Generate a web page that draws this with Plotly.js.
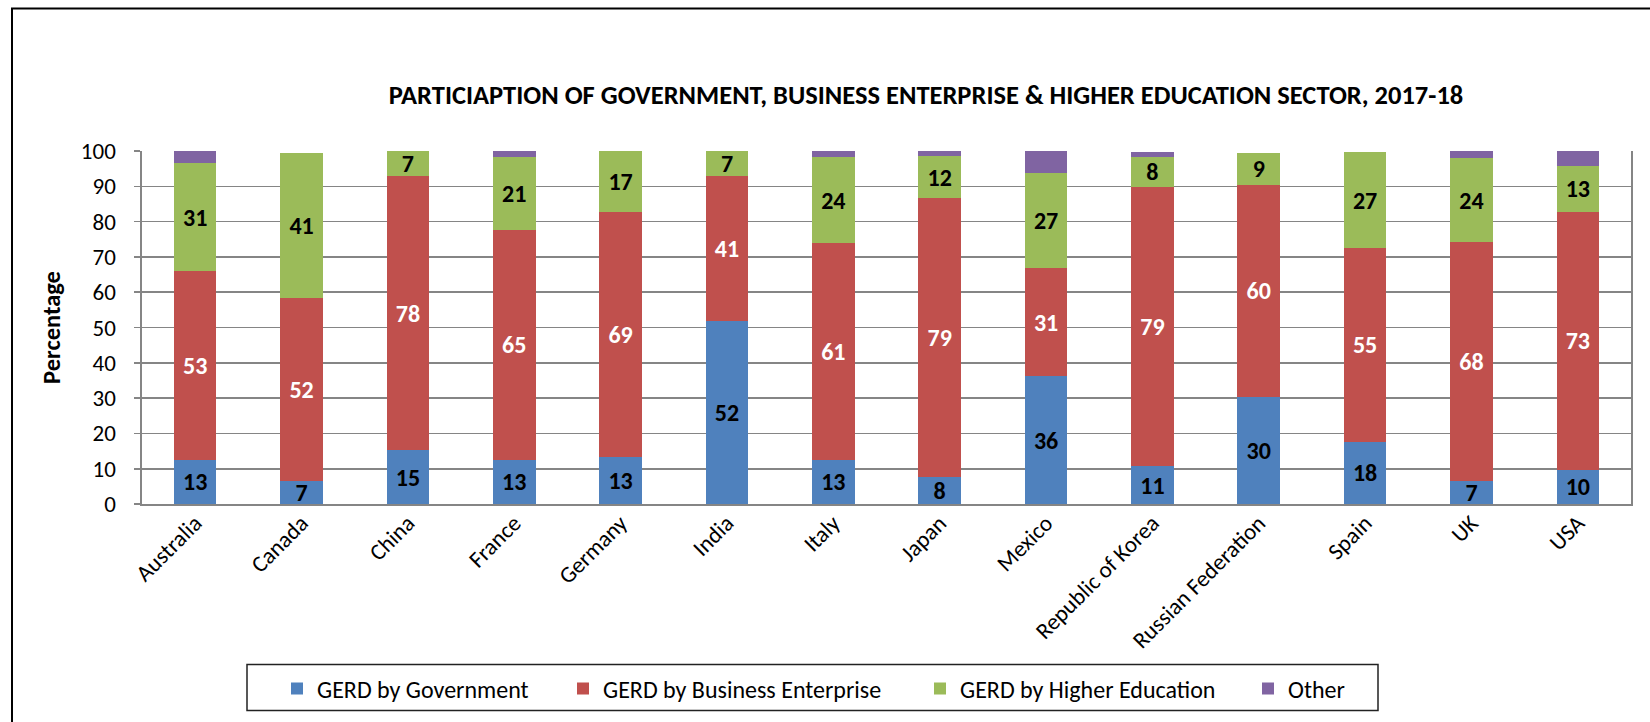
<!DOCTYPE html>
<html>
<head>
<meta charset="utf-8">
<script src="https://cdn.plot.ly/plotly-3.0.1.min.js"></script>
<style>
html,body{margin:0;padding:0;background:#fff;}
#chart{width:1650px;height:722px;}
</style>
</head>
<body>
<div id="chart"></div>
<script>
// ---- data ----
const categories = ["Australia","Canada","China","France","Germany","India","Italy","Japan","Mexico","Republic of Korea","Russian Federation","Spain","UK","USA"];
const govValues   = [12.6, 6.6, 15.2, 12.6, 13.3, 51.9, 12.6, 7.7, 36.2, 10.7, 30.3, 17.7, 6.6, 9.7];
const busValues   = [53.4, 51.9, 77.6, 65.0, 69.4, 40.9, 61.3, 78.9, 30.7, 79.2, 60.2, 54.8, 67.6, 73.0];
const heValues    = [30.6, 41.0, 7.2, 20.7, 17.3, 7.2, 24.4, 12.0, 26.8, 8.4, 9.0, 27.2, 23.7, 13.1];
const otherValues = [3.4, 0.0, 0.0, 1.7, 0.0, 0.0, 1.7, 1.4, 6.3, 1.3, 0.0, 0.0, 2.1, 4.2];
const seriesNames = ["GERD by Government","GERD by Business Enterprise","GERD by Higher Education","Other"];
const yTickVals = [0,10,20,30,40,50,60,70,80,90,100];

// ---- styles ----
const FONT = "Carlito, Lato, 'Liberation Sans', sans-serif";
const FS = 23;
const colors = ["#4F81BD","#C0504D","#9BBB59","#8064A2"];
const labelColors = ["#000000","#FFFFFF","#000000",null];

// plot area in pixels
const L = 142, R = 1631, T = 151, B = 505;
const xp = px => (px - L) / (R - L);
const yp = py => (B - py) / (B - T);

const allSeries = [govValues, busValues, heValues, otherValues];
const legendIds = ["legend","legend2","legend3","legend4"];
const legendLeftPx = [277, 563, 920, 1248];

const traces = allSeries.map((vals, i) => {
  const t = {
    type: "bar",
    name: seriesNames[i],
    x: categories,
    y: vals,
    marker: {color: colors[i], line: {width: 0}},
    legend: legendIds[i],
    hoverinfo: "x+y+name"
  };
  if (labelColors[i]) {
    t.texttemplate = "%{y:.0f}";
    t.textposition = "inside";
    t.insidetextanchor = "middle";
    t.textangle = 0;
    t.constraintext = "none";
    t.textfont = {family: FONT, size: 24, color: labelColors[i], weight: 700};
  } else {
    t.textposition = "none";
  }
  return t;
});

const layout = {
  width: 1650,
  height: 722,
  barmode: "stack",
  bargap: 0.6,
  paper_bgcolor: "#ffffff",
  plot_bgcolor: "#ffffff",
  margin: {l: L, r: 1650 - R, t: T, b: 722 - B, pad: 0},
  font: {family: FONT, size: FS, color: "#000"},
  title: {
    text: "PARTICIAPTION OF GOVERNMENT, BUSINESS ENTERPRISE & HIGHER EDUCATION SECTOR, 2017-18",
    font: {family: FONT, size: 26.5, color: "#000", weight: 700},
    xref: "container", x: 926 / 1650, xanchor: "center",
    yref: "container", y: 1 - 95 / 722, yanchor: "middle"
  },
  xaxis: {
    type: "category",
    showline: true, linecolor: "#858585", linewidth: 1.6,
    showgrid: false,
    ticks: "",
    tickangle: -45,
    ticklabelstandoff: -5,
    tickfont: {family: FONT, size: FS, color: "#000"},
    automargin: false
  },
  yaxis: {
    range: [0, 100],
    tickvals: yTickVals,
    showgrid: true, gridcolor: "#858585", gridwidth: 1.6,
    showline: true, linecolor: "#858585", linewidth: 1.6, mirror: true,
    zeroline: false,
    ticks: "outside", ticklen: 6, tickcolor: "#858585", tickwidth: 1.6,
    ticklabelstandoff: 14,
    tickfont: {family: FONT, size: FS, color: "#000"},
    title: {text: "Percentage", font: {family: FONT, size: 24.5, color: "#000", weight: 700}, standoff: 13},
    automargin: false
  },
  shapes: [
    {type: "line", xref: "paper", yref: "paper", x0: xp(12), x1: xp(12), y0: yp(730), y1: yp(8), line: {color: "#000", width: 2}},
    {type: "line", xref: "paper", yref: "paper", x0: xp(11), x1: xp(1660), y0: yp(8), y1: yp(8), line: {color: "#000", width: 2}},
    {type: "rect", xref: "paper", yref: "paper", x0: xp(247), x1: xp(1378), y0: yp(712), y1: yp(666), line: {color: "#222", width: 1.5}, fillcolor: "rgba(0,0,0,0)"}
  ],
  showlegend: true
};

legendIds.forEach((id, i) => {
  layout[id] = {
    orientation: "h",
    x: xp(legendLeftPx[i]), xanchor: "left",
    y: yp(689), yanchor: "middle",
    bgcolor: "rgba(0,0,0,0)", borderwidth: 0,
    font: {family: FONT, size: 24, color: "#000"}
  };
});

Plotly.newPlot("chart", traces, layout, {displayModeBar: false, staticPlot: true});
</script>
</body>
</html>
